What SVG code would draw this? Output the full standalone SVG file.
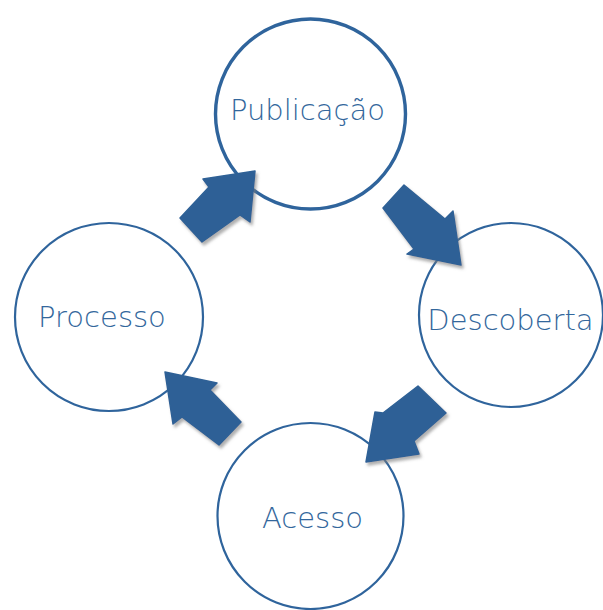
<svg xmlns="http://www.w3.org/2000/svg" width="603" height="610" viewBox="0 0 603 610">
  <defs>
    <style>
      .ring { fill: #ffffff; stroke: #2f649c; stroke-width: 2.2; }
      .ring.top { stroke-width: 3.4; }
      .label { font-family: "DejaVu Sans", "Liberation Sans", sans-serif; font-size: 29px; font-weight: 200; fill: #33679c; text-anchor: middle; }
      .arrow { fill: #2e6196; stroke: #2e6196; stroke-width: 1.5; stroke-linejoin: round; filter: url(#shade); }
    </style>
    <filter id="shade" x="-20%" y="-20%" width="150%" height="150%">
      <feDropShadow dx="2" dy="3" stdDeviation="1.5" flood-color="#7a7a7a" flood-opacity="0.6"/>
    </filter>
  </defs>
  <rect width="603" height="610" fill="#ffffff"/>

  <g id="publicacao">
    <circle class="ring top" cx="310.5" cy="114" r="95"/>
    <text class="label" x="307.5" y="120">Publicação</text>
  </g>

  <g id="descoberta">
    <circle class="ring" cx="511" cy="315" r="92"/>
    <text class="label" x="510.5" y="330">Descoberta</text>
  </g>

  <g id="acesso">
    <circle class="ring" cx="310.5" cy="516" r="93"/>
    <text class="label" x="312.5" y="528">Acesso</text>
  </g>

  <g id="processo">
    <circle class="ring" cx="109" cy="317" r="94"/>
    <text class="label" x="102" y="327">Processo</text>
  </g>

  <g id="connectors">
    <!-- Processo to Publicação -->
    <polygon class="arrow" points="255,171 203,179 209,187 180,218 202,242 240,215 250,222"/>
    <!-- Publicação to Descoberta -->
    <polygon class="arrow" points="461,265 453,211 445,219 404,185 383,208 414,249 407,254"/>
    <!-- Descoberta to Acesso -->
    <polygon class="arrow" points="366,462 375,412 383,413 418,386 446,413 414,441 419,454"/>
    <!-- Acesso to Processo -->
    <polygon class="arrow" points="165,372 217,383 210,390 241,422 219,445 182,417 173,424"/>
  </g>
</svg>
